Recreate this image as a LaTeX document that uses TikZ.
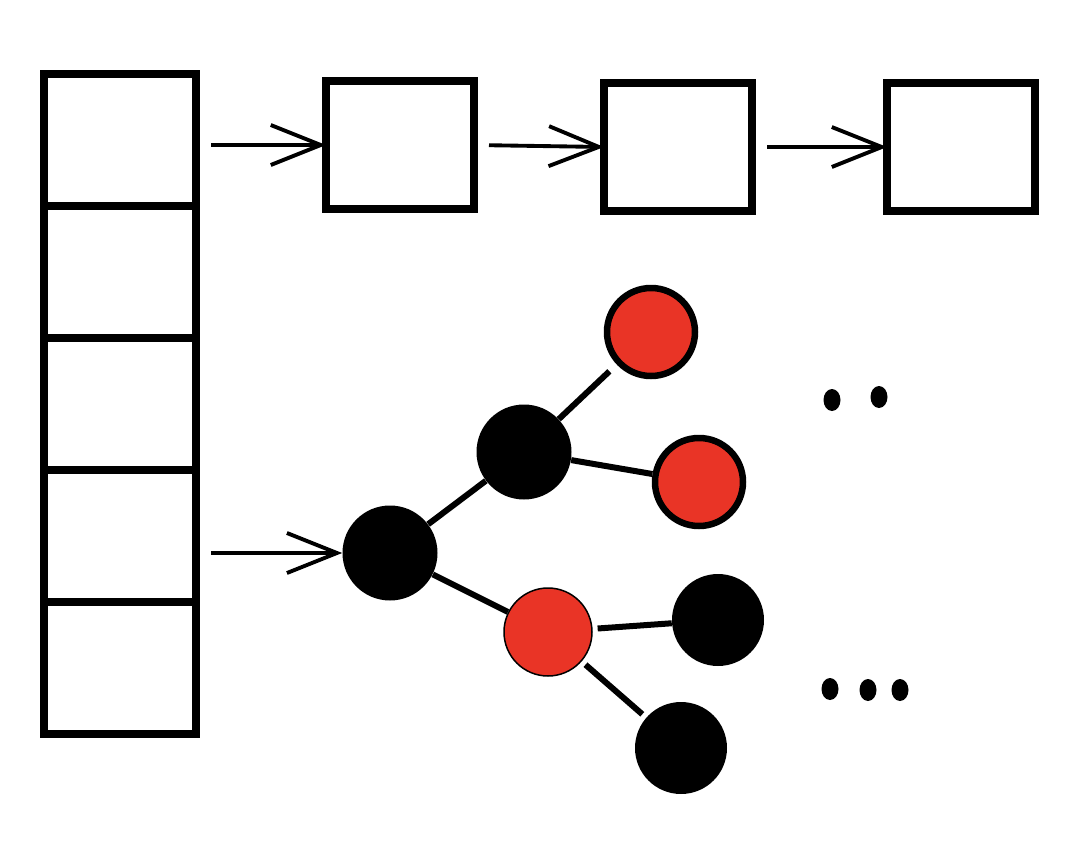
\documentclass[tikz,border=0pt]{standalone}
\usepackage{xcolor}
\usepackage{tikz}
\usetikzlibrary{arrows.meta,shapes.geometric,positioning}
\definecolor{TreeRed}{RGB}{233,52,38}

\begin{document}
\begin{tikzpicture}[
    cell/.style={draw=black,line width=0.16cm,minimum width=3.04cm,minimum height=2.64cm,
                 outer sep=0pt,inner sep=0pt},
    bucket/.style={draw=black,line width=0.16cm,minimum width=2.96cm,minimum height=2.56cm,
                   outer sep=0pt,inner sep=0pt},
    blk/.style={circle,fill=black,minimum size=1.9cm,inner sep=0pt},
    red/.style={circle,fill=TreeRed,draw=black,line width=0.13cm,minimum size=1.76cm,inner sep=0pt},
    edge/.style={line width=0.12cm,black},
    dotblob/.style={ellipse,fill=black,minimum width=0.34cm,minimum height=0.44cm,inner sep=0pt},
    arr/.style={-{Straight Barb[length=1cm,width=0.8cm]},line width=2.2pt,shorten <=0.3cm}
  ]
    \useasboundingbox (0,0) rectangle (21.84,-16.88);
    % hash table column
    \node[cell] (c1) at (2.4,-2.8) {};
    \node[cell,below=0pt of c1] (c2) {};
    \node[cell,below=0pt of c2] (c3) {};
    \node[cell,below=0pt of c3] (c4) {};
    \node[cell,below=0pt of c4] (c5) {};
    % linked list
    \node[bucket,right=2.6cm of c1,yshift=-0.1cm] (L1) {};
    \node[bucket,right=2.6cm of L1,yshift=-0.04cm] (L2) {};
    \node[bucket,right=2.7cm of L2] (L3) {};
    \draw[arr] (c1.east |- L1.west)--(L1.west); \draw[arr] (L1.east)--(L2.west); \draw[arr] (L2.east)--(L3.west);
    % tree
    \node[blk] (T0) at (7.8,-11.06) {};
    \node[blk] (T1) at (10.48,-9.04) {};
    \node[red] (T2) at (13.02,-6.64) {};
    \node[red] (T3) at (13.98,-9.64) {};
    \node[red,line width=0.03cm] (T4) at (10.96,-12.64) {};
    \node[blk,minimum size=1.84cm] (T5) at (14.36,-12.4) {};
    \node[blk,minimum size=1.84cm] (T6) at (13.62,-14.96) {};
    \draw[arr] (c4.east |- T0.west)--(T0.west);
    \draw[edge] (T0)--(T1); \draw[edge,shorten >=0.2cm] (T1)--(T2); \draw[edge] (T1)--(T3);
    \draw[edge] (T0)--(T4); \draw[edge,shorten <=0.1cm] (T4)--(T5);
    \draw[edge,shorten <=0.1cm,shorten >=0.1cm] (T4)--(T6);
    % dots
    \node[dotblob] (d1) at (16.64,-8.0) {};
    \node[dotblob] (d2) at (17.58,-7.94) {};
    \node[dotblob] (d3) at (16.6,-13.78) {};
    \node[dotblob] (d4) at (17.36,-13.8) {};
    \node[dotblob] (d5) at (18.0,-13.8) {};
  \end{tikzpicture}
\end{document}
